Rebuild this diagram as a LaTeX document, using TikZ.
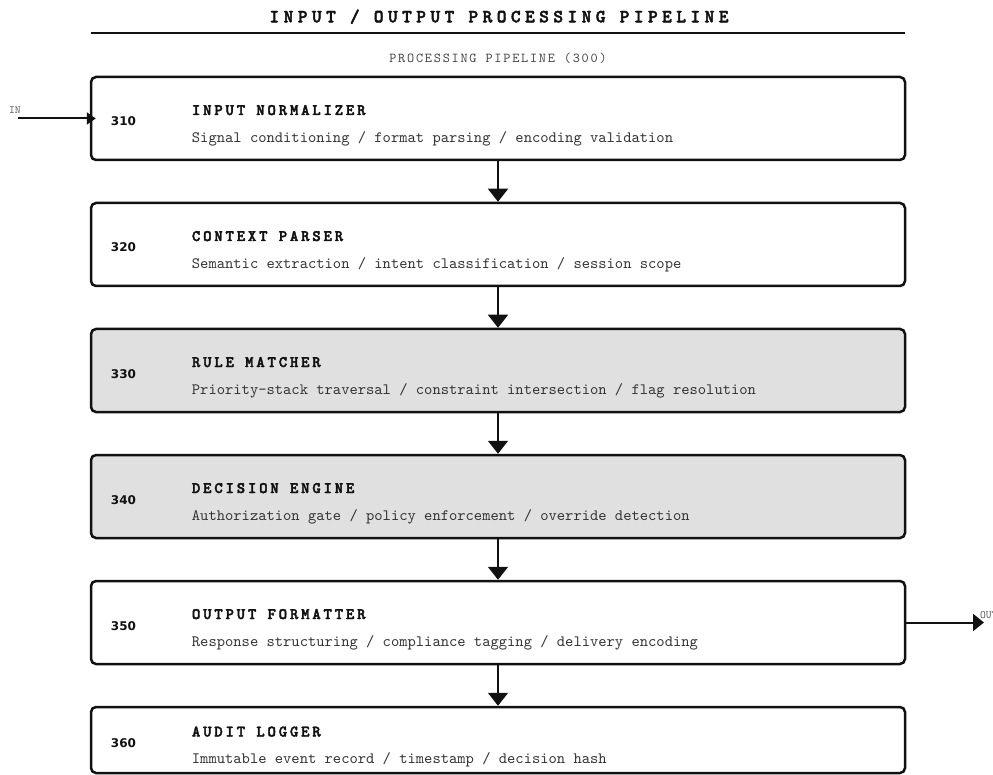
\documentclass[tikz,border=0pt]{standalone}
\usepackage{fontspec}
% typewriter faces from Latin Modern Mono
\newfontfamily\headfont[LetterSpace=24,FakeBold=2.5]{lmmonolt10-bold.otf}
\newfontfamily\stagefont[LetterSpace=17.5,FakeBold=2.5]{lmmonolt10-bold.otf}
\newfontfamily\groupfont[LetterSpace=13]{lmmono10-regular.otf}
\newfontfamily\descfont{lmmono10-regular.otf}
\newfontfamily\numfont{DejaVu Sans}
\usetikzlibrary{arrows.meta}

\definecolor{ink}{HTML}{111111}
\definecolor{desctext}{HTML}{333333}
\definecolor{grouptext}{HTML}{444444}
\definecolor{porttext}{HTML}{555555}
\definecolor{shade}{HTML}{E0E0E0}

\tikzset{
  stagebox/.style={draw=ink, line width=2.5pt, rounded corners=5pt,
    minimum width=814pt, inner sep=0pt, fill=white},
  shaded/.style={fill=shade},
  numtext/.style={anchor=base west, inner sep=0pt, text=ink,
    font=\numfont\bfseries\fontsize{12}{14}\selectfont},
  titletext/.style={anchor=base west, inner sep=0pt, text=ink,
    font=\stagefont\fontsize{16}{18}\selectfont},
  desctext/.style={anchor=base west, inner sep=0pt, text=desctext,
    font=\descfont\fontsize{15.8}{18}\selectfont},
  porttext/.style={anchor=base west, inner sep=0pt, text=porttext,
    font=\descfont\fontsize{11}{12}\selectfont},
  flow/.style={draw=ink, line width=2pt, -{Triangle[length=13pt,width=20pt]}},
  inflow/.style={draw=ink, line width=2pt, -{Triangle[length=9pt,width=12pt]}},
  outflow/.style={draw=ink, line width=2pt, -{Triangle[length=11pt,width=17pt]}},
}

% one pipeline stage: name, centre y, height, number, title, description, extra style
\newcommand\pipestage[7]{%
  \node[stagebox, minimum height=#3pt, #7] (#1) at (498,#2) {};
  \node[numtext]   (#1num)   at ([xshift=21pt, yshift=-7.5pt]#1.west) {#4};
  \node[titletext] (#1title) at ([xshift=102pt, yshift=3.5pt]#1.west) {#5};
  \node[desctext]  (#1desc)  at ([xshift=102pt, yshift=-23.8pt]#1.west) {#6};
}

\begin{document}
\begin{tikzpicture}[x=1pt, y=-1pt]
  \useasboundingbox (0,0) rectangle (993,775);

  % heading and rule
  \node[anchor=base, inner sep=0pt, text=ink,
    font=\headfont\fontsize{18.5}{20}\selectfont] (heading) at (499,22.3)
    {INPUT / OUTPUT PROCESSING PIPELINE};
  \coordinate (ruleL) at (91,33);
  \coordinate (ruleR) at (905,33);
  \draw[ink, line width=1.5pt] (ruleL) -- (ruleR);

  \node[anchor=base, inner sep=0pt, text=grouptext,
    font=\groupfont\fontsize{13.6}{15}\selectfont] (group) at (498,62.7)
    {PROCESSING PIPELINE (300)};

  % stages
  \pipestage{s310}{118.5}{83}{310}{INPUT NORMALIZER}
    {Signal conditioning / format parsing / encoding validation}{}
  \pipestage{s320}{244.5}{83}{320}{CONTEXT PARSER}
    {Semantic extraction / intent classification / session scope}{}
  \pipestage{s330}{370.5}{83}{330}{RULE MATCHER}
    {Priority-stack traversal / constraint intersection / flag resolution}{shaded}
  \pipestage{s340}{496.5}{83}{340}{DECISION ENGINE}
    {Authorization gate / policy enforcement / override detection}{shaded}
  \pipestage{s350}{622.5}{83}{350}{OUTPUT FORMATTER}
    {Response structuring / compliance tagging / delivery encoding}{}
  \pipestage{s360}{740}{66}{360}{AUDIT LOGGER}
    {Immutable event record / timestamp / decision hash}{}

  % flow between stages
  \draw[flow] (s310.south) -- (s320.north);
  \draw[flow] (s320.south) -- (s330.north);
  \draw[flow] (s330.south) -- (s340.north);
  \draw[flow] (s340.south) -- (s350.north);
  \draw[flow] (s350.south) -- (s360.north);

  % input and output ports
  \coordinate (inStart) at (18,118.5);
  \node[porttext] (inLabel) at (9,114) {IN};
  \draw[inflow] (inStart) -- ([xshift=6pt]s310.west);

  \coordinate (outEnd) at (984,622.5);
  \node[porttext] (outLabel) at (980,618) {OUT};
  \draw[outflow] (s350.east) -- (outEnd);
\end{tikzpicture}
\end{document}
